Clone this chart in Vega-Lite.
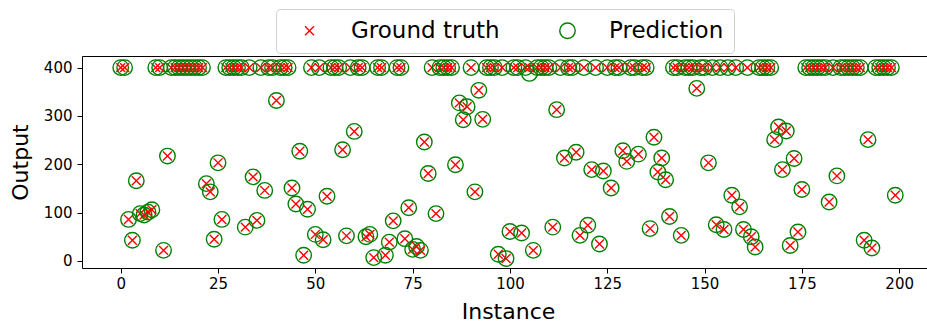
{
  "$schema": "https://vega.github.io/schema/vega-lite/v6.json",
  "width": 852,
  "height": 212,
  "autosize": {"type": "none"},
  "padding": {"left": 82, "top": 56, "right": 0, "bottom": 55},
  "background": "white",
  "config": {
    "font": "DejaVu Sans",
    "view": {"stroke": "#000000", "strokeWidth": 1},
    "axis": {
      "grid": false, "domain": false, "tickColor": "#000000", "tickSize": 5, "tickWidth": 1,
      "labelColor": "#000000", "labelFontSize": 15, "labelFont": "DejaVu Sans",
      "titleFontSize": 22, "titleFontWeight": "normal", "titleColor": "#000000", "titleFont": "DejaVu Sans"
    },
    "legend": {
      "labelFontSize": 23, "labelFont": "DejaVu Sans", "labelColor": "#000000",
      "strokeColor": "#d0d0d0", "fillColor": "white", "cornerRadius": 4, "padding": 10,
      "symbolStrokeWidth": 1.4, "columnPadding": 44, "labelOffset": 30, "symbolOffset": 12
    }
  },
  "data": {"values": [
    {"i":0,"truth":400,"pred":400},{"i":1,"truth":400,"pred":400},{"i":2,"truth":86,"pred":86},{"i":3,"truth":43,"pred":43},{"i":4,"truth":166,"pred":166},
    {"i":5,"truth":98,"pred":98},{"i":6,"truth":95,"pred":95},{"i":7,"truth":101,"pred":101},{"i":8,"truth":106,"pred":106},{"i":9,"truth":400,"pred":400},
    {"i":10,"truth":400,"pred":400},{"i":11,"truth":22,"pred":22},{"i":12,"truth":217,"pred":217},{"i":13,"truth":400,"pred":400},{"i":14,"truth":400,"pred":400},
    {"i":15,"truth":400,"pred":400},{"i":16,"truth":400,"pred":400},{"i":17,"truth":400,"pred":400},{"i":18,"truth":400,"pred":400},{"i":19,"truth":400,"pred":400},
    {"i":20,"truth":400,"pred":400},{"i":21,"truth":400,"pred":400},{"i":22,"truth":160,"pred":160},{"i":23,"truth":143,"pred":143},{"i":24,"truth":45,"pred":45},
    {"i":25,"truth":203,"pred":203},{"i":26,"truth":86,"pred":86},{"i":27,"truth":400,"pred":400},{"i":28,"truth":400,"pred":400},{"i":29,"truth":400,"pred":400},
    {"i":30,"truth":400,"pred":400},{"i":31,"truth":400,"pred":400},{"i":32,"truth":70,"pred":70},{"i":33,"truth":400,"pred":400},{"i":34,"truth":174,"pred":174},
    {"i":35,"truth":84,"pred":84},{"i":36,"truth":400,"pred":400},{"i":37,"truth":146,"pred":146},{"i":38,"truth":400,"pred":400},{"i":39,"truth":400,"pred":400},
    {"i":40,"truth":332,"pred":332},{"i":41,"truth":400,"pred":400},{"i":42,"truth":400,"pred":400},{"i":43,"truth":400,"pred":400},{"i":44,"truth":151,"pred":151},
    {"i":45,"truth":118,"pred":118},{"i":46,"truth":227,"pred":227},{"i":47,"truth":12,"pred":12},{"i":48,"truth":107,"pred":107},{"i":49,"truth":400,"pred":400},
    {"i":50,"truth":55,"pred":55},{"i":51,"truth":400,"pred":400},{"i":52,"truth":44,"pred":44},{"i":53,"truth":134,"pred":134},{"i":54,"truth":400,"pred":400},
    {"i":55,"truth":400,"pred":400},{"i":56,"truth":400,"pred":400},{"i":57,"truth":230,"pred":230},{"i":58,"truth":52,"pred":52},{"i":59,"truth":400,"pred":400},
    {"i":60,"truth":268,"pred":268},{"i":61,"truth":400,"pred":400},{"i":62,"truth":400,"pred":400},{"i":63,"truth":50,"pred":50},{"i":64,"truth":55,"pred":55},
    {"i":65,"truth":7,"pred":7},{"i":66,"truth":400,"pred":400},{"i":67,"truth":400,"pred":400},{"i":68,"truth":12,"pred":12},{"i":69,"truth":39,"pred":39},
    {"i":70,"truth":83,"pred":83},{"i":71,"truth":400,"pred":400},{"i":72,"truth":400,"pred":400},{"i":73,"truth":46,"pred":46},{"i":74,"truth":110,"pred":110},
    {"i":75,"truth":24,"pred":24},{"i":76,"truth":30,"pred":30},{"i":77,"truth":22,"pred":22},{"i":78,"truth":246,"pred":246},{"i":79,"truth":181,"pred":181},
    {"i":80,"truth":400,"pred":400},{"i":81,"truth":98,"pred":98},{"i":82,"truth":400,"pred":400},{"i":83,"truth":400,"pred":400},{"i":84,"truth":400,"pred":400},
    {"i":85,"truth":400,"pred":400},{"i":86,"truth":199,"pred":199},{"i":87,"truth":327,"pred":327},{"i":88,"truth":292,"pred":292},{"i":89,"truth":319,"pred":319},
    {"i":90,"truth":400,"pred":400},{"i":91,"truth":143,"pred":143},{"i":92,"truth":353,"pred":353},{"i":93,"truth":293,"pred":293},{"i":94,"truth":400,"pred":400},
    {"i":95,"truth":400,"pred":400},{"i":96,"truth":400,"pred":400},{"i":97,"truth":14,"pred":14},{"i":98,"truth":400,"pred":400},{"i":99,"truth":5,"pred":5},
    {"i":100,"truth":61,"pred":61},{"i":101,"truth":400,"pred":400},{"i":102,"truth":400,"pred":400},{"i":103,"truth":58,"pred":58},{"i":104,"truth":400,"pred":400},
    {"i":105,"truth":400,"pred":388},{"i":106,"truth":22,"pred":22},{"i":107,"truth":400,"pred":400},{"i":108,"truth":400,"pred":400},{"i":109,"truth":400,"pred":400},
    {"i":110,"truth":400,"pred":400},{"i":111,"truth":70,"pred":70},{"i":112,"truth":313,"pred":313},{"i":113,"truth":400,"pred":400},{"i":114,"truth":213,"pred":213},
    {"i":115,"truth":400,"pred":400},{"i":116,"truth":400,"pred":400},{"i":117,"truth":225,"pred":225},{"i":118,"truth":53,"pred":53},{"i":119,"truth":400,"pred":400},
    {"i":120,"truth":74,"pred":74},{"i":121,"truth":189,"pred":189},{"i":122,"truth":400,"pred":400},{"i":123,"truth":35,"pred":35},{"i":124,"truth":186,"pred":186},
    {"i":125,"truth":400,"pred":400},{"i":126,"truth":151,"pred":151},{"i":127,"truth":400,"pred":400},{"i":128,"truth":400,"pred":400},{"i":129,"truth":228,"pred":228},
    {"i":130,"truth":206,"pred":206},{"i":131,"truth":400,"pred":400},{"i":132,"truth":400,"pred":400},{"i":133,"truth":221,"pred":221},{"i":134,"truth":400,"pred":400},
    {"i":135,"truth":400,"pred":400},{"i":136,"truth":67,"pred":67},{"i":137,"truth":256,"pred":256},{"i":138,"truth":184,"pred":184},{"i":139,"truth":213,"pred":213},
    {"i":140,"truth":168,"pred":168},{"i":141,"truth":92,"pred":92},{"i":142,"truth":400,"pred":400},{"i":143,"truth":400,"pred":400},{"i":144,"truth":53,"pred":53},
    {"i":145,"truth":400,"pred":400},{"i":146,"truth":400,"pred":400},{"i":147,"truth":400,"pred":400},{"i":148,"truth":357,"pred":357},{"i":149,"truth":400,"pred":400},
    {"i":150,"truth":400,"pred":400},{"i":151,"truth":203,"pred":203},{"i":152,"truth":400,"pred":400},{"i":153,"truth":75,"pred":75},{"i":154,"truth":400,"pred":400},
    {"i":155,"truth":65,"pred":65},{"i":156,"truth":400,"pred":400},{"i":157,"truth":136,"pred":136},{"i":158,"truth":400,"pred":400},{"i":159,"truth":112,"pred":112},
    {"i":160,"truth":65,"pred":65},{"i":161,"truth":400,"pred":400},{"i":162,"truth":50,"pred":50},{"i":163,"truth":29,"pred":29},{"i":164,"truth":400,"pred":400},
    {"i":165,"truth":400,"pred":400},{"i":166,"truth":400,"pred":400},{"i":167,"truth":400,"pred":400},{"i":168,"truth":251,"pred":251},{"i":169,"truth":277,"pred":277},
    {"i":170,"truth":189,"pred":189},{"i":171,"truth":269,"pred":269},{"i":172,"truth":32,"pred":32},{"i":173,"truth":212,"pred":212},{"i":174,"truth":60,"pred":60},
    {"i":175,"truth":148,"pred":148},{"i":176,"truth":400,"pred":400},{"i":177,"truth":400,"pred":400},{"i":178,"truth":400,"pred":400},{"i":179,"truth":400,"pred":400},
    {"i":180,"truth":400,"pred":400},{"i":181,"truth":400,"pred":400},{"i":182,"truth":122,"pred":122},{"i":183,"truth":400,"pred":400},{"i":184,"truth":176,"pred":176},
    {"i":185,"truth":400,"pred":400},{"i":186,"truth":400,"pred":400},{"i":187,"truth":400,"pred":400},{"i":188,"truth":400,"pred":400},{"i":189,"truth":400,"pred":400},
    {"i":190,"truth":400,"pred":400},{"i":191,"truth":43,"pred":43},{"i":192,"truth":251,"pred":251},{"i":193,"truth":27,"pred":27},{"i":194,"truth":400,"pred":400},
    {"i":195,"truth":400,"pred":400},{"i":196,"truth":400,"pred":400},{"i":197,"truth":400,"pred":400},{"i":198,"truth":400,"pred":400},{"i":199,"truth":136,"pred":136}
  ]},
  "transform": [{"fold": ["truth", "pred"], "as": ["series", "value"]}],
  "mark": {"type": "point", "filled": false, "strokeWidth": 1.4, "opacity": 1},
  "encoding": {
    "x": {
      "field": "i", "type": "quantitative",
      "scale": {"domain": [-9.95, 208.95], "nice": false, "zero": false},
      "axis": {"values": [0, 25, 50, 75, 100, 125, 150, 175, 200], "title": "Instance", "labelPadding": 3, "titlePadding": 10}
    },
    "y": {
      "field": "value", "type": "quantitative",
      "scale": {"domain": [-14.5, 424], "nice": false, "zero": false},
      "axis": {"values": [0, 100, 200, 300, 400], "title": "Output", "labelPadding": 5, "titlePadding": 11}
    },
    "color": {
      "field": "series", "type": "nominal",
      "scale": {"domain": ["truth", "pred"], "range": ["#ff0000", "#008000"]},
      "legend": {
        "title": null, "orient": "none", "legendX": 194, "legendY": -47, "direction": "horizontal",
        "labelExpr": "datum.label == 'truth' ? 'Ground truth' : 'Prediction'"
      }
    },
    "shape": {
      "field": "series", "type": "nominal",
      "scale": {"domain": ["truth", "pred"], "range": ["M-1,-1L1,1M-1,1L1,-1", "circle"]}
    },
    "size": {
      "field": "series", "type": "nominal",
      "scale": {"domain": ["truth", "pred"], "range": [80, 240]}
    }
  }
}
